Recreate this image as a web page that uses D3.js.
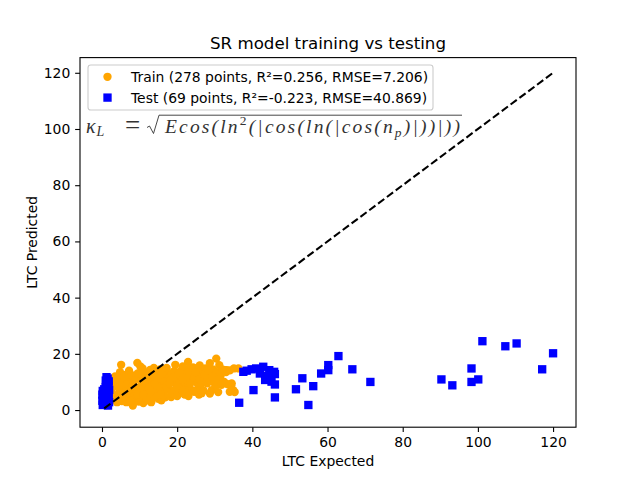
<!DOCTYPE html>
<html><head><meta charset="utf-8">
<script src="https://cdn.jsdelivr.net/npm/d3@7"></script>
<style>body{margin:0;background:#fff}</style>
</head><body><svg id="c" width="640" height="480" font-family="DejaVu Sans, sans-serif"></svg>
<script>
const xTicks=[0,20,40,60,80,100,120];
const yTicks=[0,20,40,60,80,100,120];
const idealLine=[0.6,120];
const trainPoints=[
[1.5,3.5],[2,5],[2.5,7],[1.8,9],[2.2,11],[3,4],[3.2,8.5],[2.8,10.5],[1.2,6],[3.5,12],
[4,2.8],[4.5,6],[4.2,9],[5.1,16.1],[5,11],[4.8,13.5],[5.5,4.5],[5.8,7.5],[6,10],[3.8,5],[5.3,3.2],[6.2,12.5],
[7,5],[7.5,8],[6.8,11.5],[8.2,1.6],[8,3.5],[8.5,6.5],[7.8,9.5],[8.8,12],[7.2,14],[9.4,16.8],[9,4.5],[8.5,10.5],[9.2,8],[6.5,2.8],[7.5,6.2],
[10,6],[10.5,9],[10,11.5],[11,13.5],[11.5,4],[11.8,7.5],[10.8,14.8],[12,10],[12.2,12.5],[9.8,3],[11,2.5],[12.5,6],[10.2,15.5],
[13.1,2.8],[13,5],[13.5,8.5],[13.2,11],[14,13.5],[14.5,7],[14.8,10],[13.8,15],[15,4],[15,12],[14.2,6],[12.8,14.3],
[16,6.5],[16.2,9],[16.5,11.5],[17,13],[15.5,14.5],[17.5,7.5],[17.8,10.5],[16.8,4.5],[18,12],[15.8,3.5],[17.2,15],
[18.4,4.6],[19,7],[19.5,9.5],[19.5,16.1],[20,12],[19.2,13.8],[20.5,6],[20.8,10.5],[21,14],[18.5,11],[21.2,8],
[22,5.5],[22.5,9],[22.9,17.1],[22,12.5],[23,14.5],[23.5,7.5],[23.8,11],[21.5,15.5],[24,13],[22.8,10],[24.2,15.2],
[25.5,7.6],[25,10],[26,15.9],[25.2,12.5],[26.5,14],[26.2,8.8],[27,11.5],[25.8,5.5],[24.8,14.8],[26.8,13],
[28,9.5],[28.7,16.7],[28.5,12.5],[29.2,7.1],[28.7,5.9],[29.5,14.5],[27.5,14.8],[30,9.4],[30.4,18.3],[29,11],[30.5,13.5],
[30.5,8.9],[30.9,6.4],[31.5,12],[32,14.5],[32.5,10],[31.2,16],[33,13.5],[33.2,14.2],[32.7,14.2],
[34,14.1],[34.4,8.8],[35.3,6.4],[35.1,14.8],[34.5,9.5],[36.3,14.8],[34,6.5],[33.5,9.2],[34.9,7.1],
[2.5,6],[3,9.5],[3.8,11],[4.5,8],[5.2,5.5],[5.8,12],[6.5,9],[7,7],[7.8,12.5],[8.2,8.8],[9,11],[9.5,13],[10.5,7.5],[11.2,10],
[11.8,12],[12.5,8],[13.5,12.5],[14,9.5],[14.5,11.5],[15.5,8],[16,12.8],[16.5,10],[17,8.5],[18,9.5],[18.5,13],[19,11.5],[20,8.5],
[20.5,13],[21.5,11],[22,7],[23,12],[23.5,9.5],[24.5,11.5],[25,13.5],[26,11],[27.2,12.5],[27.8,10.2],[28.2,14],[29.5,12],[31,11],[31.8,9],
[3.5,3.8],[6,4],[7.5,3.5],[10,4.5],[12,3.5],[14,4.8],[16.5,5.5],[18.5,6],[20,5],[21.5,6.8],[23,5],[24.5,6.5],[27,7],[26.5,6],
[4.5,4],[2,2.8],[9.5,5.5],[11,5.5],[13,6.5],[15.5,5.5]
];
const testPoints=[
[1.2,11.7],[1.5,11.2],[1.0,10.5],[1.8,10.2],[1.3,9.6],[1.1,9],[1.7,8.6],[1.0,8.2],[1.4,7.8],[0.6,7.4],[1.9,7.2],[0.2,6.8],
[1.1,6.5],[0.5,6.0],[1.6,5.8],[0.1,5.5],[0.9,5.2],[1.8,4.9],[0.3,4.6],[1.2,4.2],[0.6,3.9],[1.5,3.6],[0.1,3.3],[0.9,3.0],
[1.9,2.8],[0.4,2.5],[1.3,2.2],[0.7,1.9],[1.6,1.6],[0.2,1.8],[1.0,2.0],[0.8,4.4],
[37.6,13.6],[39.8,14.5],[42.9,15.4],[42.0,13.0],[43.5,12.2],[45.8,13.6],[46.0,12.8],[43.4,10.7],[45.1,10.1],[46.0,9.1],
[44.5,11.5],[40.3,7.1],[46.0,4.5],[36.5,2.6],[38.5,14.0],[41,14.8],[44.5,14.2],
[53.3,11.3],[51.6,7.4],[56.2,8.5],[54.9,1.8],[58.3,13.0],[60.2,16.0],[60.2,14.2],[62.9,19.2],[66.6,14.5],[71.4,10.0],
[90.3,10.9],[93.2,8.8],[98.3,14.8],[98.3,10.0],[100.1,10.9],[101.2,24.5],[107.3,22.7],[110.3,23.7],[117.1,14.5],[120.0,20.2]
];
const titleText="SR model training vs testing";
const xLabel="LTC Expected", yLabel="LTC Predicted";
const legendLabels=["Train (278 points, R²=0.256, RMSE=7.206)","Test (69 points, R²=-0.223, RMSE=40.869)"];
const colors=["#FFA500","#0000FF"];

const svg=d3.select("#c");
const L=80,R=576,T=57.6,B=427.2;
const x=d3.scaleLinear().domain([-5.85,126.1]).range([L,R]);
const y=d3.scaleLinear().domain([-6.1,125.4]).range([B,T]);
svg.append("rect").attr("width",640).attr("height",480).attr("fill","#fff");

const ms=8.33;
const plot=svg.append("g");
plot.selectAll("circle.tr").data(trainPoints).join("circle").attr("class","tr")
  .attr("cx",d=>x(d[0])).attr("cy",d=>y(d[1])).attr("r",ms/2).attr("fill",colors[0]);
plot.selectAll("rect.te").data(testPoints).join("rect").attr("class","te")
  .attr("x",d=>x(d[0])-ms/2).attr("y",d=>y(d[1])-ms/2).attr("width",ms).attr("height",ms).attr("fill",colors[1]);
plot.append("line").attr("x1",x(idealLine[0])).attr("y1",y(idealLine[0])).attr("x2",x(idealLine[1])).attr("y2",y(idealLine[1]))
  .attr("stroke","#000").attr("stroke-width",2.08).attr("stroke-dasharray","7.7,3.33");

// axes
const tk=4.86;
const gx=svg.append("g").attr("transform",`translate(0,${B})`)
  .call(d3.axisBottom(x).tickValues(xTicks).tickSize(tk).tickPadding(4.86).tickFormat(d3.format("d")));
const gy=svg.append("g").attr("transform",`translate(${L},0)`)
  .call(d3.axisLeft(y).tickValues(yTicks).tickSize(tk).tickPadding(4.86).tickFormat(d3.format("d")));
[gx,gy].forEach(g=>{g.select(".domain").remove();
  g.selectAll("line").attr("stroke","#000").attr("stroke-width",1.1);
  g.selectAll("text").attr("font-size","13.9px").attr("fill","#000").attr("font-family","DejaVu Sans");});
svg.append("rect").attr("x",L).attr("y",T).attr("width",R-L).attr("height",B-T)
  .attr("fill","none").attr("stroke","#000").attr("stroke-width",1.1);

svg.append("text").attr("x",(L+R)/2).attr("y",49.3).attr("text-anchor","middle").attr("font-size","16.67px").text(titleText);
svg.append("text").attr("x",(L+R)/2).attr("y",466).attr("text-anchor","middle").attr("font-size","13.9px").text(xLabel);
svg.append("text").attr("transform",`translate(36.5,${(T+B)/2}) rotate(-90)`).attr("text-anchor","middle").attr("font-size","13.9px").text(yLabel);

// legend
const lg=svg.append("g");
lg.append("rect").attr("x",88).attr("y",65).attr("width",345).attr("height",45).attr("rx",2.8)
  .attr("fill","#fff").attr("fill-opacity",0.8).attr("stroke","#ccc").attr("stroke-width",1.1);
const rows=[76.8,97.6];
lg.append("circle").attr("cx",107.5).attr("cy",rows[0]).attr("r",ms/2).attr("fill",colors[0]);
lg.append("rect").attr("x",107.5-ms/2).attr("y",rows[1]-ms/2).attr("width",ms).attr("height",ms).attr("fill",colors[1]);
legendLabels.forEach((t,i)=>lg.append("text").attr("x",131).attr("y",rows[i]).attr("dy","0.36em").attr("font-size","13.9px").text(t));

// formula
const ff="Liberation Serif, DejaVu Serif, serif";
const fb=132.5, fc="#333";
const f1=svg.append("text").attr("x",86).attr("y",fb).attr("font-family",ff).attr("font-size","20px").attr("fill",fc);
f1.append("tspan").attr("font-style","italic").text("κ");
f1.append("tspan").attr("font-style","italic").attr("font-size","14px").attr("dx",1).attr("dy",3.5).text("L");
svg.append("text").attr("x",125).attr("y",fb+1).attr("font-family",ff).attr("font-size","27px").attr("fill",fc).text("=");
const cx0=165, cEnd=460;
const f2=svg.append("text").attr("x",cx0).attr("y",fb).attr("font-family",ff).attr("font-size","19.5px").attr("fill",fc).attr("font-style","italic")
  .attr("textLength",cEnd-cx0).attr("lengthAdjust","spacing");
f2.append("tspan").text("Ecos(ln");
f2.append("tspan").attr("font-size","13.5px").attr("dy",-8).attr("font-style","normal").text("2");
f2.append("tspan").attr("dy",8).text("(|cos(ln(|cos(n");
f2.append("tspan").attr("font-size","13.5px").attr("dy",4).text("p");
f2.append("tspan").attr("dy",-4).text(")|))|))");
const rad=d3.path();
rad.moveTo(147,127.5);rad.lineTo(149.5,126);rad.lineTo(153.5,133.5);rad.lineTo(159,115.2);rad.lineTo(cEnd+2,115.2);
svg.append("path").attr("d",rad.toString()).attr("fill","none").attr("stroke",fc).attr("stroke-width",0.9);
</script></body></html>
